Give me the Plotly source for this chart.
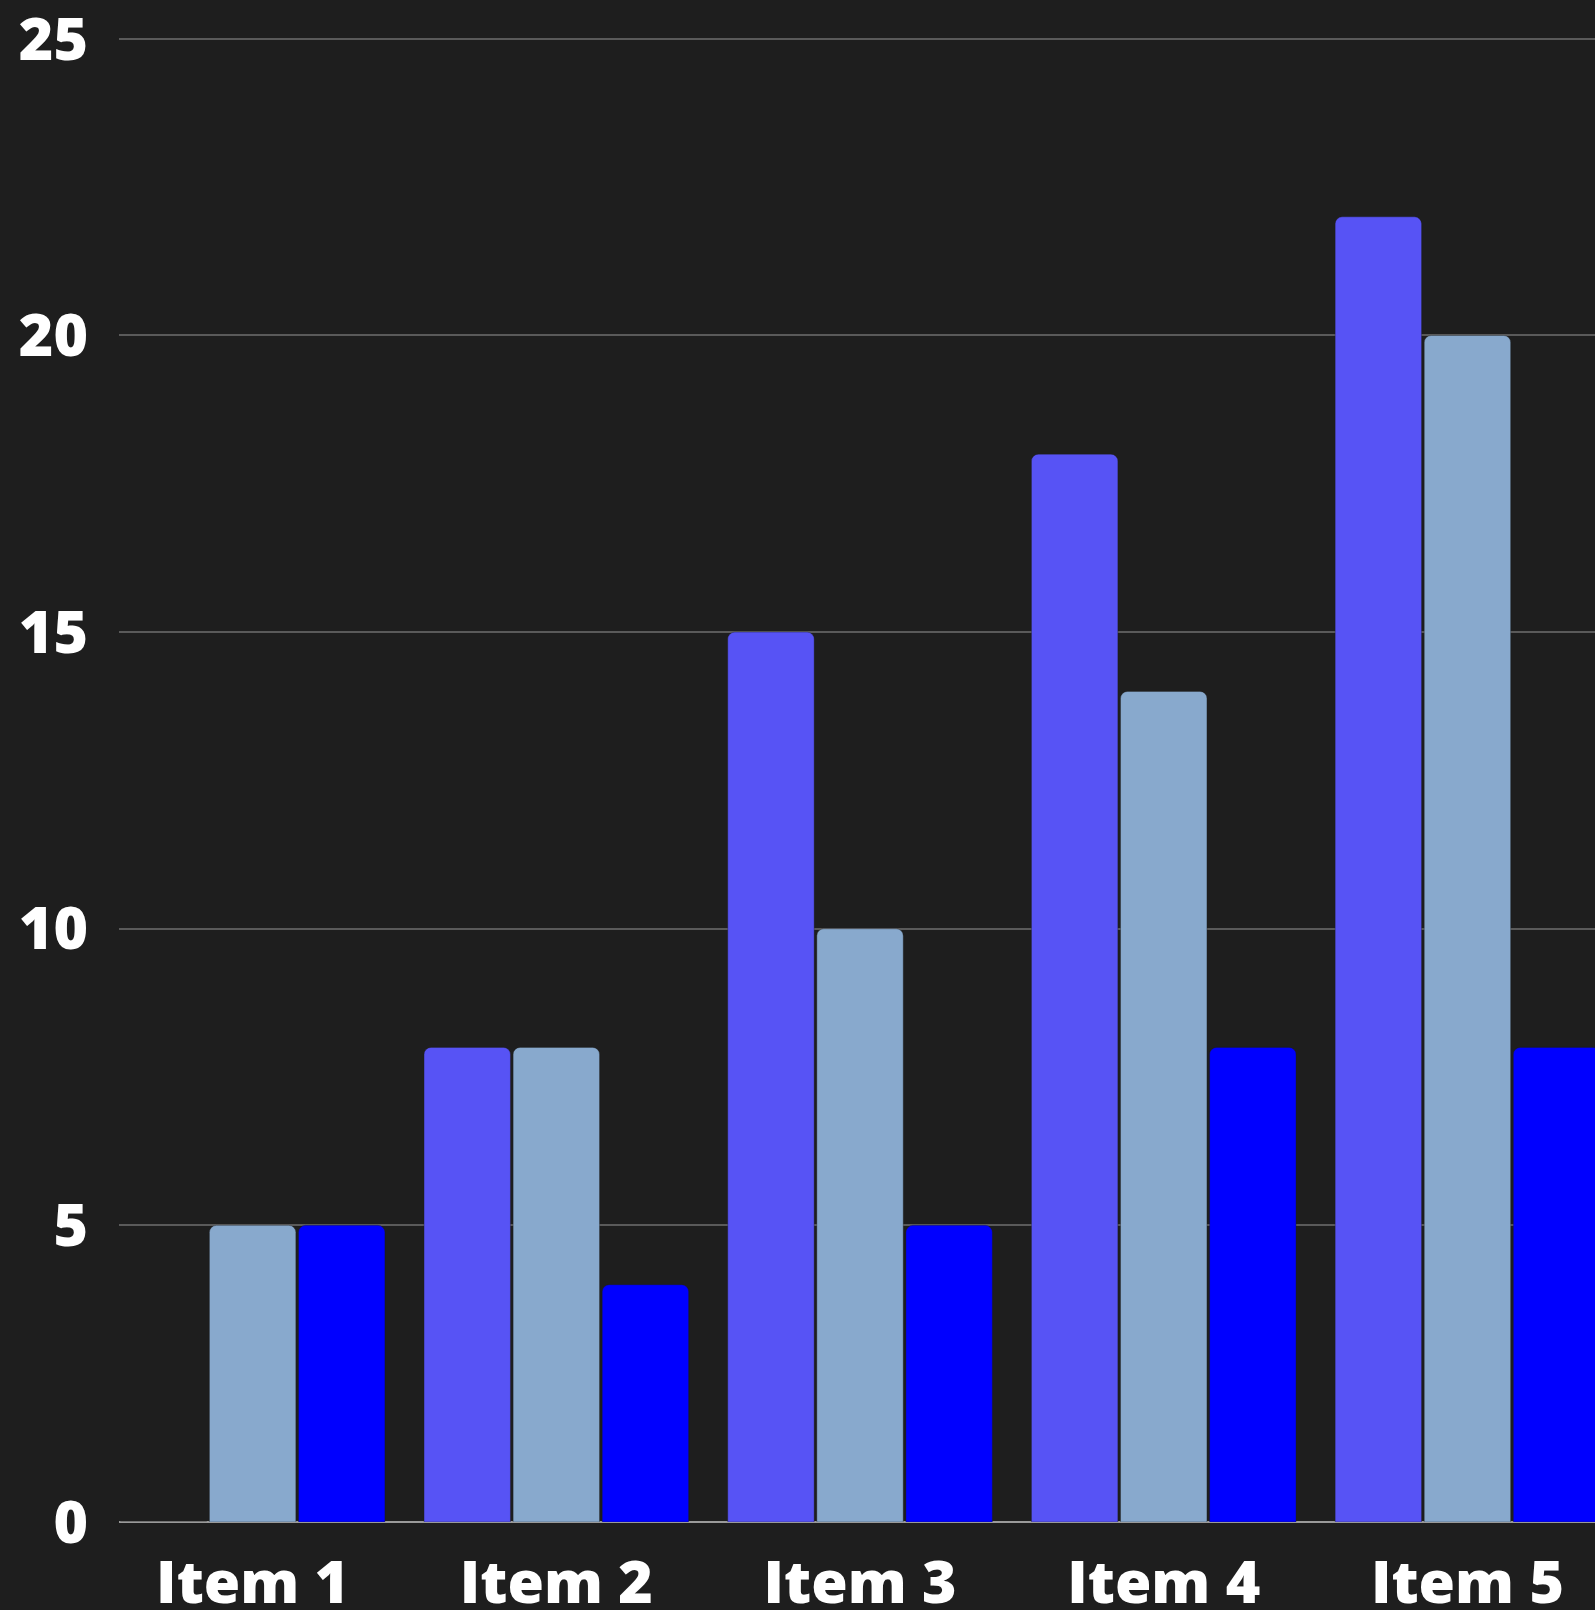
import plotly.graph_objects as go

categories = ["Item 1", "Item 2", "Item 3", "Item 4", "Item 5"]
series_1 = [0, 8, 15, 18, 22]
series_2 = [5, 8, 10, 14, 20]
series_3 = [5, 4, 5, 8, 8]
y_ticks = [0, 5, 10, 15, 20, 25]

colors = ["#5753F5", "#88A9CD", "#0000FF"]

fig = go.Figure()
for name, vals, c in zip(["Series 1", "Series 2", "Series 3"], [series_1, series_2, series_3], colors):
    fig.add_trace(go.Bar(
        x=categories, y=vals, name=name,
        marker=dict(color=c, line=dict(width=1, color="rgba(30,30,30,0.35)")),
    ))

font = dict(family="Open Sans", size=59, color="#FFFFFF", weight=800)

fig.update_layout(
    width=1595, height=1610,
    margin=dict(l=119, r=0, t=27, b=88),
    paper_bgcolor="#1E1E1E", plot_bgcolor="#1E1E1E",
    barmode="group", bargap=0.12, bargroupgap=0.03,
    barcornerradius=7,
    showlegend=False,
    xaxis=dict(
        range=[-0.44, 4.42], showgrid=False, tickfont=font,
        ticks="", showline=False, zeroline=False,
        ticklabelstandoff=21, ticklabeloverflow="allow", automargin=False,
    ),
    yaxis=dict(
        range=[0, 25.2], tickvals=y_ticks, tickfont=font,
        showgrid=True, gridcolor="#5A5A5A", gridwidth=2,
        zeroline=True, zerolinecolor="#9A9A9A", zerolinewidth=2,
        ticklabelstandoff=30, ticklabeloverflow="allow", automargin=False,
    ),
)

fig.write_html("out.html")
